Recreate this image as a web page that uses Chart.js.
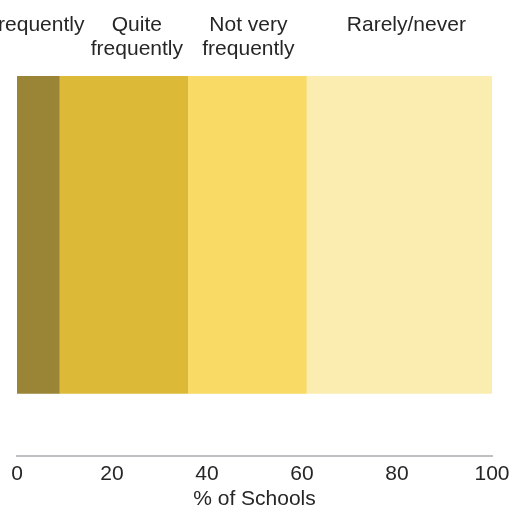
<!DOCTYPE html>
<html>
<head>
<meta charset="utf-8">
<script src="https://cdn.jsdelivr.net/npm/chart.js@4/dist/chart.umd.min.js"></script>
<style>
html,body{margin:0;padding:0;background:#fff;}
#wrap{width:518px;height:512px;}
</style>
</head>
<body>
<div id="wrap"><canvas id="c" width="518" height="512"></canvas></div>
<script>
const categories = ["Schools"];
const seriesNames = ["Very frequently", "Quite frequently", "Not very frequently", "Rarely/never"];
const veryFrequently = [9];
const quiteFrequently = [27];
const notVeryFrequently = [25];
const rarelyNever = [39];
const xTicks = [0, 20, 40, 60, 80, 100];
const axisTitle = "% of Schools";

const colors = ["#9a8537", "#dcb936", "#f9da64", "#fbecb0"];
const headerLines = [["Very frequently"], ["Quite", "frequently"], ["Not very", "frequently"], ["Rarely/never"]];
const headerShift = [-24, 13, 1, 7];
const FONT = "'Liberation Sans', Arial, sans-serif";

const seriesValues = [veryFrequently, quiteFrequently, notVeryFrequently, rarelyNever];

const headerPlugin = {
  id: 'headers',
  afterDraw(chart) {
    const ctx = chart.ctx;
    const xs = chart.scales.x;
    ctx.save();
    ctx.font = "21px " + FONT;
    ctx.fillStyle = "#262626";
    ctx.textAlign = "center";
    ctx.textBaseline = "alphabetic";
    let cum = 0;
    seriesValues.forEach((vals, i) => {
      const v = vals[0];
      const mid = cum + v / 2;
      cum += v;
      const px = xs.getPixelForValue(mid) + headerShift[i];
      headerLines[i].forEach((line, j) => {
        ctx.fillText(line, px, 31 + j * 24);
      });
    });
    ctx.restore();
  }
};

new Chart(document.getElementById('c'), {
  type: 'bar',
  data: {
    labels: categories,
    datasets: seriesValues.map((vals, i) => ({
      label: seriesNames[i],
      data: vals,
      backgroundColor: colors[i],
      borderWidth: 0,
      barPercentage: 318 / 442,
      categoryPercentage: 1
    }))
  },
  options: {
    indexAxis: 'y',
    responsive: false,
    animation: false,
    layout: { padding: { top: 14, left: 17, right: 26, bottom: 6 } },
    plugins: { legend: { display: false }, tooltip: { enabled: false } },
    scales: {
      y: { stacked: true, display: false },
      x: {
        stacked: true,
        min: 0,
        max: 100,
        afterBuildTicks(scale) { scale.ticks = xTicks.map(v => ({ value: v })); },
        grid: { display: false, drawTicks: false },
        border: { display: true, color: "#c0c0c4", width: 2 },
        ticks: { color: "#262626", font: { family: FONT, size: 21, lineHeight: 1.15 }, padding: 6, maxRotation: 0 },
        title: { display: true, text: axisTitle, color: "#262626", font: { family: FONT, size: 21, lineHeight: '14px' }, padding: { top: 0, bottom: 0 } }
      }
    }
  },
  plugins: [headerPlugin]
});
</script>
</body>
</html>
